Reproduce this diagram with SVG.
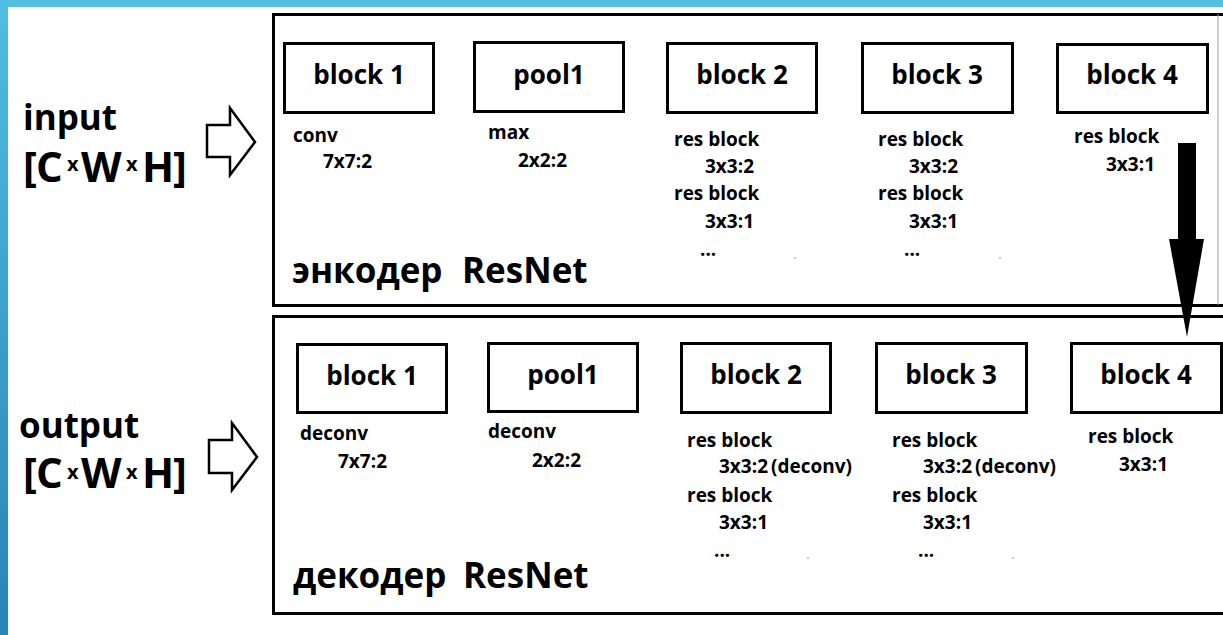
<svg xmlns="http://www.w3.org/2000/svg" width="1223" height="635" viewBox="0 0 1223 635">
<defs>
<linearGradient id="lb" x1="0" y1="0" x2="0" y2="1">
<stop offset="0" stop-color="#52bde0"/>
<stop offset="1" stop-color="#2a84b4"/>
</linearGradient>
<style>
text{font-family:"Open Sans","Noto Sans","DejaVu Sans",sans-serif;font-weight:700;fill:#000}
.blk{fill:#fff;stroke:#000;stroke-width:3}
.outer{fill:none;stroke:#000;stroke-width:3}
.title{font-size:26px;text-anchor:middle}
.sm{font-size:19px}
.big{font-size:35px}
.cap{font-size:42px}
.tiny{font-size:20px}
.hollow{fill:#fff;stroke:#000;stroke-width:2.5;stroke-linejoin:miter}
.dot{fill:#888}
</style>
</defs>
<rect width="1223" height="635" fill="#fff"/>
<rect x="0" y="0" width="1223" height="7" fill="#55bfe0"/>
<rect x="0" y="0" width="8" height="635" fill="url(#lb)"/>

<g id="input-label">
<text class="big" x="23" y="130">input</text>
<text y="182"><tspan class="cap" x="23">[</tspan><tspan class="cap" x="36">C</tspan><tspan class="tiny" x="67" dy="-11">x</tspan><tspan class="cap" x="81" dy="11">W</tspan><tspan class="tiny" x="126" dy="-11">x</tspan><tspan class="cap" x="142" dy="11">H</tspan><tspan class="cap" x="173">]</tspan></text>
</g>
<g id="output-label">
<text class="big" x="19" y="438">output</text>
<text y="488"><tspan class="cap" x="23">[</tspan><tspan class="cap" x="36">C</tspan><tspan class="tiny" x="67" dy="-9">x</tspan><tspan class="cap" x="81" dy="9">W</tspan><tspan class="tiny" x="126" dy="-9">x</tspan><tspan class="cap" x="142" dy="9">H</tspan><tspan class="cap" x="173">]</tspan></text>
</g>

<g id="encoder">
<path class="outer" d="M1224,14.5 H273.5 V305.5 H1224"/>
<line x1="1218" y1="14" x2="1218" y2="305" stroke="#999" stroke-width="1"/>
<text x="292" y="283" style="font-size:35px">энкодер<tspan x="462">ResNet</tspan></text>
</g>
<g id="decoder">
<path class="outer" d="M1224,316.5 H273.5 V613.5 H1224"/>
<text x="293" y="588" style="font-size:35px">декодер<tspan x="463">ResNet</tspan></text>
</g>

<g id="enc-block1">
<rect class="blk" x="284.5" y="43.5" width="149" height="69"/>
<text class="title" x="359" y="84">block 1</text>
<text class="sm" x="293" y="142">conv</text>
<text class="sm" x="323" y="168">7x7:2</text>
</g>
<g id="enc-pool1">
<rect class="blk" x="474.5" y="42.5" width="149" height="69"/>
<text class="title" x="549" y="84">pool1</text>
<text class="sm" x="488" y="139">max</text>
<text class="sm" x="518" y="167">2x2:2</text>
</g>
<g id="enc-block2">
<rect class="blk" x="667.5" y="43.5" width="149" height="69"/>
<text class="title" x="742" y="84">block 2</text>
<text class="sm" x="674" y="146">res block</text>
<text class="sm" x="705" y="173">3x3:2</text>
<text class="sm" x="674" y="200">res block</text>
<text class="sm" x="705" y="228">3x3:1</text>
<text class="sm" x="700" y="256">...</text>
</g>
<g id="enc-block3">
<rect class="blk" x="862.5" y="43.5" width="150" height="69"/>
<text class="title" x="937" y="84">block 3</text>
<text class="sm" x="878" y="146">res block</text>
<text class="sm" x="909" y="173">3x3:2</text>
<text class="sm" x="878" y="200">res block</text>
<text class="sm" x="909" y="228">3x3:1</text>
<text class="sm" x="904" y="256">...</text>
</g>
<g id="enc-block4">
<rect class="blk" x="1057.5" y="44.5" width="150" height="68"/>
<text class="title" x="1132" y="84">block 4</text>
<text class="sm" x="1074" y="143">res block</text>
<text class="sm" x="1106" y="171">3x3:1</text>
</g>

<g id="dec-block1">
<rect class="blk" x="297.5" y="344.5" width="149" height="68"/>
<text class="title" x="372" y="385">block 1</text>
<text class="sm" x="300" y="440">deconv</text>
<text class="sm" x="338" y="468">7x7:2</text>
</g>
<g id="dec-pool1">
<rect class="blk" x="488.5" y="343.5" width="149" height="68"/>
<text class="title" x="563" y="384">pool1</text>
<text class="sm" x="488" y="438">deconv</text>
<text class="sm" x="532" y="467">2x2:2</text>
</g>
<g id="dec-block2">
<rect class="blk" x="681.5" y="343.5" width="149" height="69"/>
<text class="title" x="756" y="384">block 2</text>
<text class="sm" x="687" y="447">res block</text>
<text class="sm" x="719" y="473">3x3:2<tspan dx="3">(deconv)</tspan></text>
<text class="sm" x="687" y="502">res block</text>
<text class="sm" x="719" y="529">3x3:1</text>
<text class="sm" x="714" y="557">...</text>
</g>
<g id="dec-block3">
<rect class="blk" x="876.5" y="343.5" width="150" height="69"/>
<text class="title" x="951" y="384">block 3</text>
<text class="sm" x="892" y="447">res block</text>
<text class="sm" x="923" y="473">3x3:2<tspan dx="3">(deconv)</tspan></text>
<text class="sm" x="892" y="502">res block</text>
<text class="sm" x="923" y="529">3x3:1</text>
<text class="sm" x="918" y="557">...</text>
</g>
<g id="dec-block4">
<rect class="blk" x="1071.5" y="343.5" width="150" height="69"/>
<text class="title" x="1146" y="384">block 4</text>
<text class="sm" x="1088" y="443">res block</text>
<text class="sm" x="1119" y="471">3x3:1</text>
</g>

<g id="connectors">
<polygon class="hollow" points="207,125 230,125 230,108 255,142 230,175 230,157 207,157"/>
<polygon class="hollow" points="209,440 232,440 232,423 257,457 232,490 232,473 209,473"/>
<polygon fill="#000" points="1178,143 1196,143 1196,239 1204,239 1187,337 1169,239 1178,239"/>
</g>

<g id="specks">
<circle class="dot" cx="795" cy="258" r="0.8"/>
<circle class="dot" cx="1000" cy="258" r="0.8"/>
<circle class="dot" cx="808" cy="558" r="0.8"/>
<circle class="dot" cx="1013" cy="558" r="0.8"/>
</g>
</svg>
